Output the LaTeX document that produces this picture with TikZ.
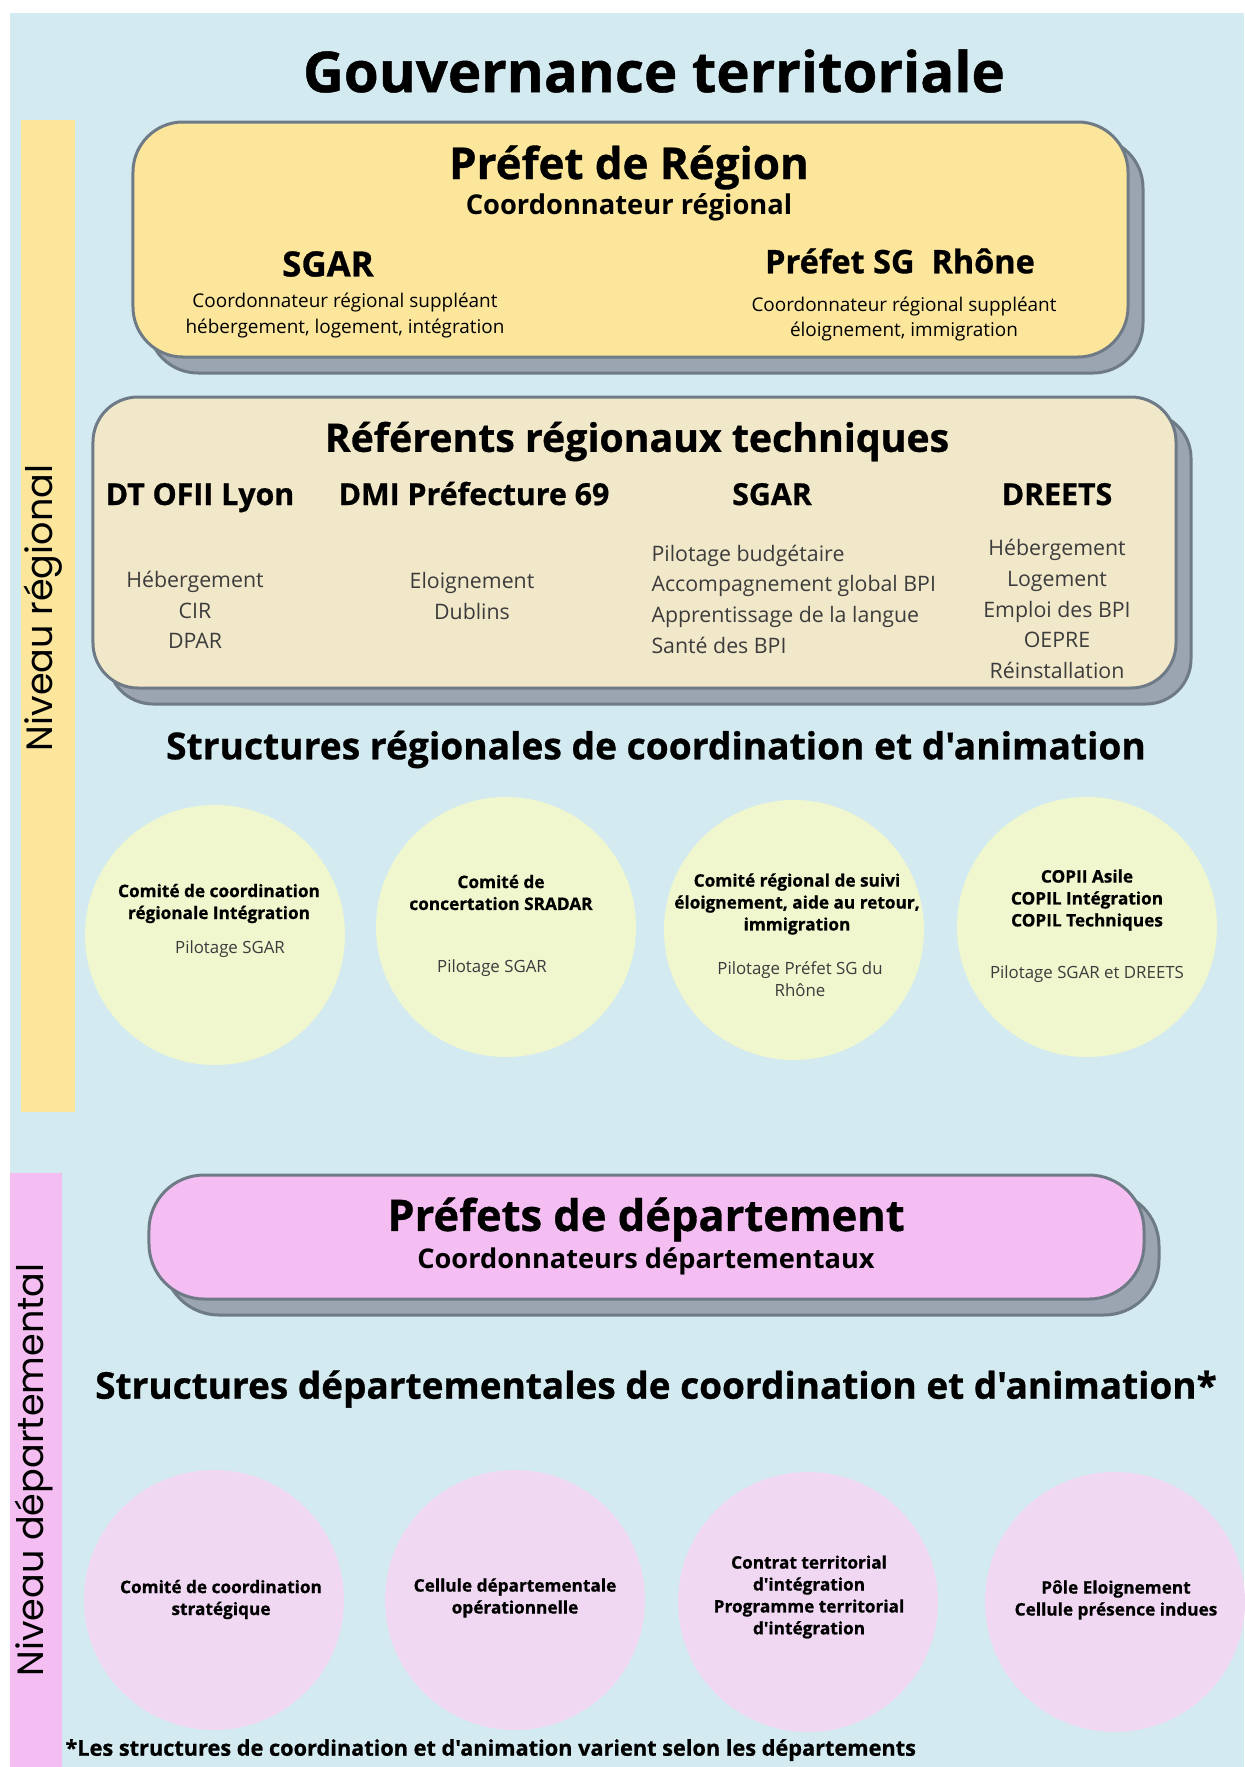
\documentclass[tikz,border=0pt]{standalone}
\usepackage{fontspec}
\setmainfont{Open Sans}[Ligatures=TeXOff]
\newfontfamily\heavyfont{Open Sans}[Ligatures=TeXOff, BoldFeatures={FakeBold=0.8}]
\newfontfamily\sidefont{Poppins}
\usetikzlibrary{shadows}
\definecolor{bgblue}{HTML}{D3EBF0}
\definecolor{regyellow}{HTML}{FBE69C}
\definecolor{refbeige}{HTML}{F1E7C9}
\definecolor{deppink}{HTML}{F5BEF3}
\definecolor{circyellow}{HTML}{F0F6CE}
\definecolor{circpink}{HTML}{F0D8F3}
\definecolor{shadowgray}{HTML}{9AA5B1}
\definecolor{edgegray}{HTML}{6E7A85}
\definecolor{lighttext}{HTML}{3C3C3C}
\newcommand{\sz}[2]{\fontsize{#1}{#2}\selectfont}
\newcommand{\hb}{\heavyfont\bfseries}

\tikzset{
  panel/.style={rectangle, rounded corners=#1, line width=3bp, draw=edgegray,
    copy shadow={shadow xshift=15bp, shadow yshift=-16bp, fill=shadowgray, draw=edgegray, line width=3bp}},
  panel/.default=50bp,
  bubble/.style={circle, minimum size=260bp, inner sep=0pt},
  ctitle/.style={font=\hb\sz{17.3}{22}, align=center},
  cnote/.style={font=\sz{16.9}{22}, text=lighttext, align=center},
  colitem/.style={font=\sz{21.4}{30.8}, text=lighttext, align=center},
  colhead/.style={font=\hb\sz{30.4}{34}, anchor=base},
  subline/.style={font=\sz{19}{25.5}, align=center},
  sidelabel/.style={font=\sidefont\sz{36.7}{40}, rotate=90}
}

\begin{document}
\begin{tikzpicture}[x=1bp,y=-1bp]
\useasboundingbox (0,0) rectangle (1244,1767);
\fill[bgblue] (10,13) rectangle (1244,1767);
% bandeaux lateraux
\fill[regyellow] (21,120) rectangle (75,1112);
\fill[deppink] (10,1173) rectangle (62,1767);
\node[sidelabel] (nivreg) at (43,608) {Niveau régional};
\node[sidelabel] (nivdep) at (34,1470) {Niveau départemental};

\node[font=\hb\sz{56.6}{64}] (titre) at (654,71) {Gouvernance territoriale};

% prefet de region
\node[panel, fill=regyellow, minimum width=995bp, minimum height=235bp] (prefreg) at (630.5,239.5) {};
\node[font=\hb\sz{44}{50}] (prefregt) at (629,167.5) {Préfet de Région};
\node[font=\bfseries\sz{27.4}{30}] (coordreg) at (629,207) {Coordonnateur régional};
\node[font=\hb\sz{35}{40}] (sgar) at (328,264) {SGAR};
\node[subline] (sgarsub) at (345,315.5) {Coordonnateur régional suppléant\\hébergement, logement, intégration};
\node[font=\hb\sz{32.6}{36}] (sgrhone) at (900,261) {Préfet SG\ \ Rhône};
\node[subline] (sgrhonesub) at (904,319) {Coordonnateur régional suppléant\\éloignement, immigration};

% referents
\node[panel=45bp, fill=refbeige, minimum width=1083bp, minimum height=291bp] (referents) at (634.5,542.5) {};
\node[font=\hb\sz{39.4}{44}] (reft) at (637,441.5) {Référents régionaux techniques};
\node[colhead] (ofii) at (200,505) {DT OFII Lyon};
\node[colhead] (dmi) at (474,505) {DMI Préfecture 69};
\node[colhead] (sgarref) at (772,505) {SGAR};
\node[colhead] (dreets) at (1057,505) {DREETS};
\node[colitem] (ofiilist) at (195,610) {Hébergement\\CIR\\DPAR};
\node[colitem] (dmilist) at (472,596) {Eloignement\\Dublins};
\node[colitem, align=left, anchor=west] (sgarlist) at (648,599) {Pilotage budgétaire\\Accompagnement global BPI\\Apprentissage de la langue\\Santé des BPI};
\node[colitem] (dreetslist) at (1057,609) {Hébergement\\Logement\\Emploi des BPI\\OEPRE\\Réinstallation};

% structures regionales
\node[font=\hb\sz{37.3}{42}] (structreg) at (656,749.5) {Structures régionales de coordination et d'animation};
\node[bubble, fill=circyellow] (rc1) at (215,935) {};
\node[bubble, fill=circyellow] (rc2) at (506,927) {};
\node[bubble, fill=circyellow] (rc3) at (794,930) {};
\node[bubble, fill=circyellow] (rc4) at (1087,927) {};
\node[ctitle] (rc1t) at (219,903.5) {Comité de coordination\\régionale Intégration};
\node[cnote] (rc1n) at (230,949) {Pilotage SGAR};
\node[ctitle] (rc2t) at (501,892.5) {Comité de\\concertation SRADAR};
\node[cnote] (rc2n) at (492,968) {Pilotage SGAR};
\node[ctitle] (rc3t) at (797,904) {Comité régional de suivi\\éloignement, aide au retour,\\immigration};
\node[cnote] (rc3n) at (800,979) {Pilotage Préfet SG du\\Rhône};
\node[ctitle] (rc4t) at (1087,900) {COPII Asile\\COPIL Intégration\\COPIL Techniques};
\node[cnote] (rc4n) at (1087,974) {Pilotage SGAR et DREETS};

% prefets de departement
\node[panel=55bp, fill=deppink, minimum width=995bp, minimum height=124bp] (prefdep) at (646.5,1237) {};
\node[font=\hb\sz{43.6}{48}] (prefdept) at (646,1219.5) {Préfets de département};
\node[font=\bfseries\sz{27.3}{30}] (coorddep) at (646,1261) {Coordonnateurs départementaux};

% structures departementales
\node[font=\hb\sz{37.1}{42}] (structdep) at (656,1389) {Structures départementales de coordination et d'animation*};
\node[bubble, fill=circpink] (dc1) at (214,1600) {};
\node[bubble, fill=circpink] (dc2) at (515,1600) {};
\node[bubble, fill=circpink] (dc3) at (808,1602) {};
\node[bubble, fill=circpink] (dc4) at (1115,1602) {};
\node[ctitle] (dc1t) at (221,1599.5) {Comité de coordination\\stratégique};
\node[ctitle] (dc2t) at (515,1598) {Cellule départementale\\opérationnelle};
\node[ctitle] (dc3t) at (809,1597) {Contrat territorial\\d'intégration\\Programme territorial\\d'intégration};
\node[ctitle] (dc4t) at (1116,1600) {Pôle Eloignement\\Cellule présence indues};

\node[font=\hb\sz{21.8}{24}, anchor=west] (note) at (62,1750) {*Les structures de coordination et d'animation varient selon les départements};
\end{tikzpicture}
\end{document}
